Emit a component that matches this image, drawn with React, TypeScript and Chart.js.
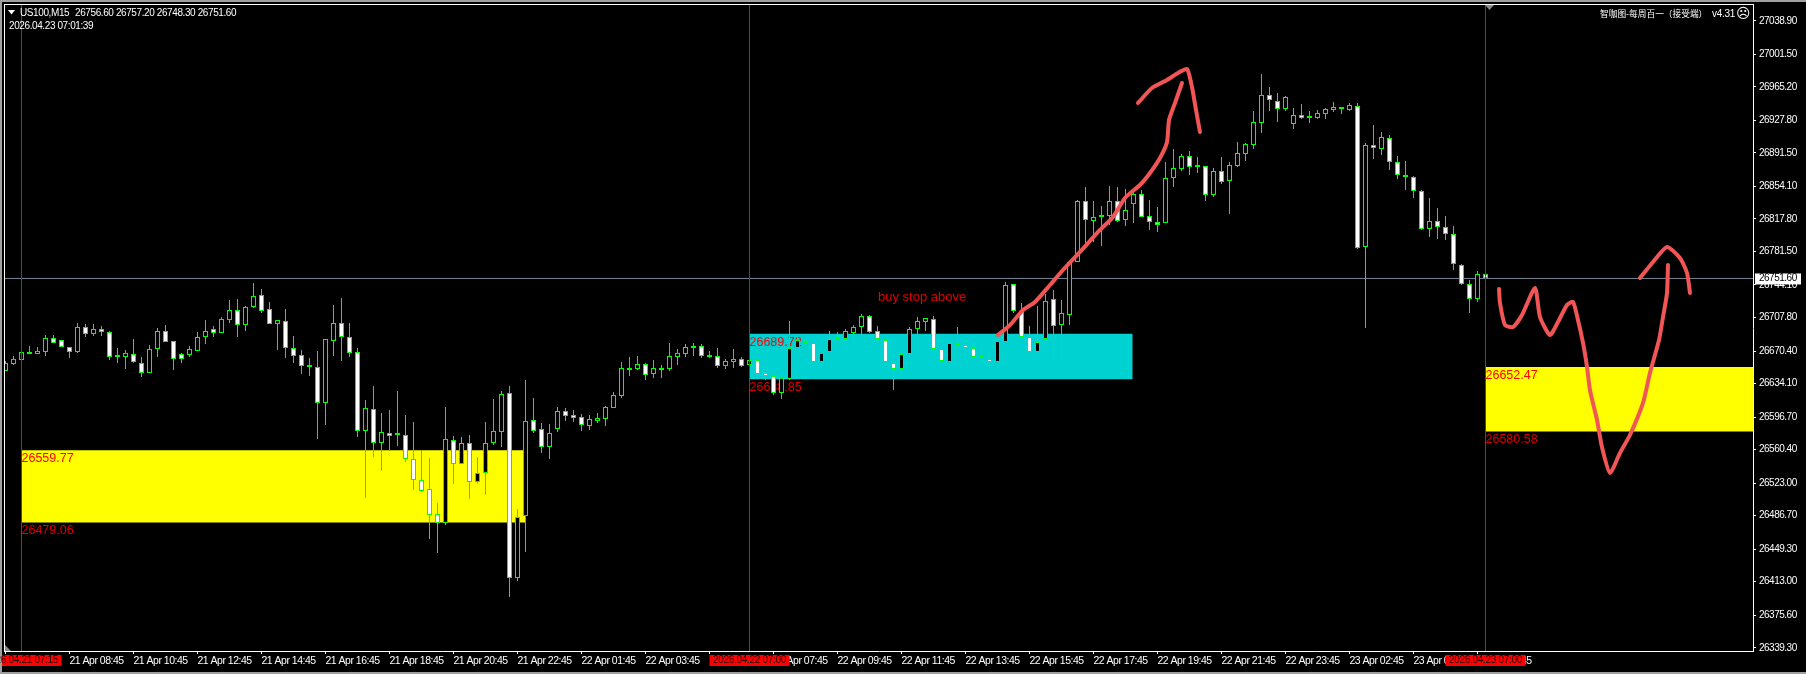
import React, { useEffect, useRef } from "react";
import { Chart, registerables } from "chart.js";

Chart.register(...registerables);

const opens = [
  26648.2,26655.9,26660.4,26669.4,26667.1,26669.4,26685.0,26682.7,26674.9,26669.4,
  26697.2,26689.4,26695.0,26691.7,26664.9,26663.8,26667.1,26657.1,26646.0,26672.7,
  26692.8,26681.6,26667.1,26666.0,26670.5,26686.1,26695.0,26690.6,26705.0,26716.2,
  26699.4,26719.6,26732.9,26717.4,26700.5,26703.9,26673.8,26666.0,26654.8,26652.6,
  26612.5,26681.6,26701.7,26686.1,26669.4,26581.2,26605.8,26567.8,26579.0,26577.8,
  26576.7,26550.0,26526.5,26516.5,26488.5,26478.6,26571.1,26544.3,26567.8,26524.3,
  26534.4,26567.8,26580.1,26623.6,26417.2,26486.3,26593.5,26583.4,26563.3,26583.4,
  26603.5,26599.0,26596.8,26586.8,26592.4,26594.6,26606.9,26620.3,26650.4,26650.4,
  26655.9,26644.8,26650.4,26650.4,26663.8,26667.1,26674.9,26676.0,26664.9,26664.9,
  26653.7,26658.2,26661.5,26654.8,26660.4,26646.0,26642.6,26623.6,26639.2,26673.8,
  26681.6,26679.4,26658.2,26669.4,26683.8,26683.8,26690.6,26697.2,26709.5,26692.8,
  26682.7,26657.1,26650.4,26667.1,26695.0,26702.8,26706.2,26672.7,26658.2,26678.2,
  26677.1,26673.8,26664.9,26661.5,26658.2,26680.5,26745.2,26715.1,26686.1,26669.4,
  26683.8,26728.5,26699.4,26710.6,26769.8,26837.8,26815.5,26820.0,26821.1,26837.8,
  26816.6,26834.4,26845.6,26821.1,26814.4,26813.3,26863.5,26873.5,26888.0,26876.9,
  26876.9,26844.5,26871.3,26860.2,26876.9,26890.3,26900.3,26924.9,26956.1,26949.4,
  26940.5,26923.8,26933.8,26931.5,26930.4,26934.9,26939.4,26942.7,26939.4,26943.8,
  26786.5,26900.3,26895.8,26908.1,26881.4,26866.8,26864.6,26849.0,26806.6,26815.5,
  26808.8,26801.0,26766.4,26745.2,26728.5,26756.6,
];
const highs = [
  26659.3,26664.9,26671.6,26676.0,26674.9,26688.3,26688.3,26682.7,26674.9,26701.7,
  26700.5,26700.5,26698.3,26692.8,26673.8,26671.6,26683.8,26663.8,26677.1,26696.1,
  26699.4,26681.6,26668.3,26676.0,26691.7,26705.0,26698.3,26708.4,26727.4,26728.5,
  26720.7,26746.4,26739.7,26725.2,26705.0,26717.4,26687.2,26671.6,26662.7,26670.5,
  26683.8,26721.8,26729.6,26701.7,26673.8,26615.8,26631.4,26601.3,26604.6,26625.8,
  26599.0,26591.3,26560.0,26551.1,26500.9,26608.0,26575.6,26574.5,26576.7,26552.2,
  26591.3,26616.9,26625.8,26631.4,26494.2,26638.1,26618.0,26590.2,26589.0,26608.0,
  26606.9,26604.6,26600.1,26599.0,26601.3,26609.1,26624.7,26658.2,26663.8,26664.9,
  26657.1,26660.4,26654.8,26679.4,26672.7,26678.2,26679.4,26678.2,26670.5,26673.8,
  26661.5,26672.7,26663.8,26663.8,26662.7,26647.1,26649.3,26643.7,26703.9,26688.3,
  26688.3,26679.4,26668.3,26692.8,26691.7,26695.0,26699.4,26711.7,26710.6,26698.3,
  26682.7,26667.1,26667.1,26697.2,26708.4,26707.3,26709.5,26688.3,26683.8,26697.2,
  26679.4,26680.5,26679.4,26671.6,26688.3,26747.5,26745.2,26724.0,26698.3,26720.7,
  26734.0,26738.5,26727.4,26769.8,26838.9,26853.5,26837.8,26832.2,26854.6,26853.5,
  26851.3,26850.1,26850.1,26838.9,26831.1,26881.4,26895.8,26890.3,26893.6,26886.9,
  26876.9,26874.6,26886.9,26881.4,26903.7,26902.6,26938.2,26979.5,26965.0,26958.3,
  26955.0,26941.6,26946.1,26938.2,26939.4,26941.6,26948.3,26942.7,26947.2,26947.2,
  26902.6,26922.7,26914.8,26911.5,26888.0,26882.5,26865.7,26850.1,26841.2,26830.0,
  26821.1,26809.9,26767.6,26749.7,26759.7,26757.2,
];
const lows = [
  26648.2,26654.8,26660.4,26667.1,26667.1,26664.9,26679.4,26674.9,26662.7,26668.3,
  26686.1,26687.2,26687.2,26660.4,26657.1,26650.4,26657.1,26641.5,26646.0,26663.8,
  26680.5,26649.3,26657.1,26663.8,26670.5,26678.2,26686.1,26690.6,26701.7,26686.1,
  26692.8,26718.5,26712.9,26700.5,26671.6,26662.7,26657.1,26644.8,26642.6,26572.3,
  26587.9,26664.9,26659.3,26663.8,26574.5,26506.5,26552.2,26536.6,26558.9,26564.4,
  26546.6,26515.4,26513.2,26460.7,26445.1,26476.3,26522.0,26544.3,26505.3,26522.0,
  26509.8,26565.5,26563.3,26395.9,26413.8,26446.2,26579.0,26556.7,26550.0,26580.1,
  26592.4,26591.3,26581.2,26582.3,26590.2,26586.8,26606.9,26618.0,26642.6,26649.3,
  26638.1,26640.4,26640.4,26648.2,26654.8,26663.8,26664.9,26662.7,26662.7,26651.5,
  26650.4,26651.5,26652.6,26652.6,26643.7,26638.1,26621.3,26616.9,26638.1,26668.3,
  26678.2,26654.8,26649.3,26669.4,26677.1,26681.6,26673.8,26686.1,26690.6,26673.8,
  26657.1,26626.9,26640.4,26661.5,26686.1,26692.8,26654.8,26652.6,26658.2,26672.7,
  26671.6,26663.8,26658.2,26652.6,26658.2,26680.5,26712.9,26685.0,26666.0,26663.8,
  26671.6,26660.4,26658.2,26699.4,26769.8,26791.0,26792.1,26787.6,26811.0,26814.4,
  26809.9,26813.3,26820.0,26805.5,26803.3,26813.3,26853.5,26871.3,26866.8,26869.1,
  26837.8,26842.3,26856.8,26823.3,26875.8,26882.5,26895.8,26913.7,26938.2,26926.0,
  26938.2,26918.1,26929.3,26924.9,26929.3,26929.3,26937.2,26934.9,26938.2,26784.3,
  26696.1,26884.7,26889.2,26872.4,26862.4,26850.1,26841.2,26805.5,26797.7,26795.4,
  26794.3,26760.8,26744.1,26712.9,26725.2,26748.3,
];
const closes = [
  26657.1,26661.6,26669.4,26667.1,26670.5,26685.0,26679.4,26674.9,26669.4,26697.2,
  26689.4,26695.0,26691.7,26663.8,26663.8,26668.3,26658.2,26646.0,26672.7,26692.8,
  26680.5,26661.5,26661.5,26672.7,26686.1,26692.8,26690.6,26706.2,26716.2,26699.4,
  26719.6,26731.8,26715.1,26700.5,26705.0,26673.8,26664.9,26653.7,26652.6,26612.5,
  26683.8,26701.7,26686.1,26668.3,26581.2,26606.9,26567.8,26580.1,26575.6,26576.7,
  26550.0,26526.5,26514.3,26487.4,26478.6,26572.2,26544.3,26567.8,26524.3,26534.4,
  26567.8,26581.2,26622.5,26417.2,26485.2,26592.4,26581.2,26563.3,26579.0,26603.5,
  26597.9,26595.7,26587.9,26594.6,26595.7,26608.0,26621.3,26651.5,26649.3,26655.9,
  26643.7,26651.5,26649.3,26664.9,26668.3,26674.9,26673.8,26664.9,26663.8,26653.7,
  26659.3,26661.5,26653.7,26660.4,26644.8,26642.6,26623.6,26640.4,26673.8,26682.7,
  26679.4,26658.2,26668.3,26683.8,26682.7,26692.8,26697.2,26709.5,26691.7,26683.8,
  26658.2,26650.4,26667.1,26695.0,26703.9,26707.3,26672.7,26659.3,26679.4,26677.1,
  26673.8,26663.8,26662.7,26658.2,26681.6,26744.1,26715.1,26686.1,26669.4,26680.5,
  26726.3,26698.3,26712.9,26769.8,26837.8,26816.6,26820.0,26822.2,26837.8,26815.5,
  26827.8,26845.6,26820.0,26814.4,26811.0,26863.5,26874.6,26888.0,26875.8,26875.8,
  26844.5,26871.3,26859.0,26878.0,26891.4,26901.4,26926.0,26956.1,26950.5,26940.5,
  26953.9,26933.8,26930.4,26930.4,26936.0,26940.5,26942.7,26940.5,26944.9,26785.4,
  26900.3,26896.9,26909.2,26881.4,26866.8,26864.6,26849.0,26806.6,26815.5,26808.8,
  26801.0,26767.6,26745.2,26728.5,26756.4,26751.6,
];

const priceTicks = [
  27038.9,27001.5,26965.2,26927.8,26891.5,26854.1,26817.8,26781.5,26744.1,26707.8,
  26670.4,26634.1,26596.7,26560.4,26523.0,26486.7,26449.3,26413.0,26375.6,26339.3,
];
const timeLabels = [
  "21 Apr 06:45","21 Apr 08:45","21 Apr 10:45","21 Apr 12:45","21 Apr 14:45","21 Apr 16:45",
  "21 Apr 18:45","21 Apr 20:45","21 Apr 22:45","22 Apr 01:45","22 Apr 03:45","22 Apr 05:45",
  "22 Apr 07:45","22 Apr 09:45","22 Apr 11:45","22 Apr 13:45","22 Apr 15:45","22 Apr 17:45",
  "22 Apr 19:45","22 Apr 21:45","22 Apr 23:45","23 Apr 02:45","23 Apr 04:45","23 Apr 06:45",
];
const barsPerTimeLabel = 8;

const sessionBars = [2, 93, 185];
const sessionStamps = ["2026.04.21 07:15", "2026.04.22 07:00", "2026.04.23 07:00"];

const zoneStartBars = [2, 93.06, 185.06];
const zoneEndBars = [64.94, 140.9, 218.44];
const zoneHighs = [26559.77, 26689.72, 26652.47];
const zoneLows = [26479.06, 26638.85, 26580.58];
const zoneFills = ["#ffff00", "#00d1d1", "#ffff00"];

const lastPriceLabel = "26751.60";
const lastPriceLine = 26751.4;

const sketchBarsA = [124.06,125.56,127.19,128.69,130.56,132.19,134.31,136.81,138.44,139.94,141.81,143.06,144.31,145.19,145.44,146.19,147.06];
const sketchPricesA = [26688.3,26699.4,26716.2,26725.2,26744.1,26760.8,26781.0,26805.5,26820.0,26841.2,26855.7,26869.1,26885.8,26903.7,26928.2,26947.2,26969.5];
const sketchBarsB = [141.56,143.31,145.19,146.56,147.69,148.31,148.81,149.31];
const sketchPricesB = [26947.2,26963.9,26972.8,26980.7,26985.1,26965.0,26939.4,26914.8];
const sketchBarsC = [186.69,186.81,187.44,188.44,189.56,191.19,191.81,193.06,194.06,195.19,195.94,196.56,197.19,197.69,198.06,198.94,199.56,200.56,201.81,203.06,204.69,205.56,206.69,207.19,207.69,207.81];
const sketchPricesC = [26739.7,26724.0,26699.4,26697.2,26710.6,26740.8,26708.4,26688.3,26702.8,26721.8,26725.2,26705.0,26679.4,26652.6,26626.9,26593.5,26563.3,26534.4,26556.7,26576.7,26612.5,26646.0,26682.7,26708.4,26735.2,26766.4];
const sketchBarsD = [204.31,205.94,207.69,209.31,210.19,210.56];
const sketchPricesD = [26751.9,26769.8,26786.5,26774.2,26757.5,26735.2];

const W = 1806;
const H = 674;
const UI_FAMILY = '"Liberation Sans"';
const UI_FONT = `10px ${UI_FAMILY}`;
const RED = "#ff0000";

const pair = (xs: number[], ys: number[]) => xs.map((x, i) => ({ x, y: ys[i] }));

const overlay = {
  id: "overlay",
  beforeDraw(chart: any) {
    const c = chart.ctx;
    c.save();
    c.fillStyle = "#000";
    c.fillRect(0, 0, W, H);
    c.fillStyle = "#a0a0a0";
    c.fillRect(0, 0, W, 2);
    c.fillRect(0, 0, 2, H);
    c.fillRect(0, 672, W, 2);
    c.fillStyle = "#fff";
    c.fillRect(4, 4, 1750, 1);
    c.fillRect(4, 4, 1, 648);
    c.restore();
    // tightens the axis labels to the width of the terminal's narrow bitmap font
    c.letterSpacing = "-0.5px";
  },
  afterDatasetDraw(chart: any, args: any) {
    const ds = chart.data.datasets[args.index];
    if (!ds.zoneIndex && ds.zoneIndex !== 0) return;
    const i = ds.zoneIndex;
    const c = chart.ctx;
    const px = chart.scales.x.getPixelForValue(sessionBars[i]);
    c.save();
    c.letterSpacing = "0px";
    c.font = '12.5px "Liberation Sans"';
    c.textBaseline = "middle";
    c.textAlign = "left";
    c.fillStyle = RED;
    c.fillText(zoneHighs[i].toFixed(2), px, chart.scales.y.getPixelForValue(zoneHighs[i]) + 8.5);
    c.fillStyle = "#dd0000";
    c.fillText(zoneLows[i].toFixed(2), px, chart.scales.y.getPixelForValue(zoneLows[i]) + 8.5);
    c.restore();
  },
  afterDraw(chart: any) {
    const c = chart.ctx;
    const { x, y } = chart.scales;
    c.save();
    c.textBaseline = "middle";
    c.textAlign = "left";

    // header
    c.fillStyle = "#fff";
    c.beginPath();
    c.moveTo(8, 10);
    c.lineTo(15, 10);
    c.lineTo(11.5, 14.5);
    c.closePath();
    c.fill();
    c.font = UI_FONT;
    c.letterSpacing = "-0.4px";
    c.fillText("US100,M15", 20, 13);
    c.fillText("26756.60 26757.20 26748.30 26751.60", 75, 13);
    c.fillText("2026.04.23 07:01:39", 9, 26);

    // right-hand indicator caption
    c.letterSpacing = "0px";
    c.font = '8.7px "Noto Sans CJK SC"';
    c.fillText("智咖图-每周百一（接受端）", 1600, 14);
    c.font = UI_FONT;
    c.letterSpacing = "-0.3px";
    c.fillText("v4.31", 1712, 14);
    c.letterSpacing = "0px";
    c.font = '14px "DejaVu Sans"';
    c.fillText("☹", 1736, 14);

    // annotation
    c.font = '13px "Liberation Sans"';
    c.fillStyle = "#dd0000";
    c.fillText("buy stop above", 878, 297);

    // chart-shift markers
    c.fillStyle = "#8a8a8a";
    c.beginPath();
    c.moveTo(1485, 5);
    c.lineTo(1494, 5);
    c.lineTo(1489.5, 10);
    c.closePath();
    c.fill();
    c.beginPath();
    c.moveTo(5, 645);
    c.lineTo(11, 651);
    c.lineTo(5, 651);
    c.closePath();
    c.fill();

    // session stamps on the time axis
    c.font = UI_FONT;
    c.letterSpacing = "-0.3px";
    sessionBars.forEach((bar, i) => {
      const px = x.getPixelForValue(bar);
      const left = Math.max(2, px - 40);
      c.fillStyle = RED;
      c.fillRect(left, 655, px + 40 - left, 11);
      c.fillStyle = "#200000";
      c.textAlign = "center";
      c.fillText(sessionStamps[i], px, 660.5);
    });

    // last price tag
    const py = y.getPixelForValue(lastPriceLine);
    c.fillStyle = "#fff";
    c.fillRect(1755, py - 5, 46, 11);
    c.fillStyle = "#000";
    c.font = UI_FONT;
    c.letterSpacing = "-0.5px";
    c.textAlign = "left";
    c.fillText(lastPriceLabel, 1759, py);
    c.restore();
  },
};

export default function App() {
  const ref = useRef<HTMLCanvasElement | null>(null);

  useEffect(() => {
    document.body.style.margin = "0";
    document.body.style.background = "#000";
    const canvas = ref.current!;
    const bars = opens.map((_, i) => i);

    const xMin = -0.0625;
    const xMax = 218.4375;
    const yMin = 26335.71;
    const yMax = 27056.52;

    const lineBase = {
      type: "line",
      pointRadius: 0,
      tension: 0,
      fill: false,
    };

    const datasets: any[] = [
      ...zoneHighs.map((hi, i) => ({
        ...lineBase,
        data: [
          { x: zoneStartBars[i], y: hi },
          { x: zoneEndBars[i], y: hi },
        ],
        fill: { value: zoneLows[i] },
        backgroundColor: zoneFills[i],
        borderWidth: 0,
        order: 40,
        zoneIndex: i,
      })),
      {
        ...lineBase,
        data: [
          { x: xMin, y: lastPriceLine },
          { x: xMax, y: lastPriceLine },
        ],
        borderColor: "#778899",
        borderWidth: 1,
        order: 35,
      },
      {
        type: "bar",
        data: bars.map((i) => ({ x: i, y: [lows[i], highs[i]] })),
        backgroundColor: "#00ff00",
        borderWidth: 0,
        grouped: false,
        barPercentage: 0.9,
        categoryPercentage: 1,
        maxBarThickness: 1,
        inflateAmount: 0,
        order: 30,
      },
      {
        type: "bar",
        data: bars.map((i) => ({ x: i, y: [opens[i], closes[i]] })),
        backgroundColor: bars.map((i) => (closes[i] < opens[i] ? "#ffffff" : "#000000")),
        borderColor: "#00ff00",
        borderWidth: 1,
        borderSkipped: false,
        grouped: false,
        barPercentage: 0.9,
        categoryPercentage: 1,
        maxBarThickness: 5,
        minBarLength: 2,
        inflateAmount: 0,
        order: 20,
      },
      ...sessionBars.map((bar) => ({
        ...lineBase,
        data: [
          { x: bar, y: yMin },
          { x: bar, y: yMax },
        ],
        borderColor: RED,
        borderWidth: 1,
        order: 10,
      })),
      ...[
        pair(sketchBarsA, sketchPricesA),
        pair(sketchBarsB, sketchPricesB),
        pair(sketchBarsC, sketchPricesC),
        pair(sketchBarsD, sketchPricesD),
      ].map((data) => ({
        ...lineBase,
        data,
        tension: 0.2,
        borderColor: "#f25555",
        borderWidth: 4,
        borderCapStyle: "round",
        borderJoinStyle: "round",
        order: 5,
      })),
    ];

    const chart = new Chart(canvas, {
      type: "bar",
      data: { datasets },
      options: {
        animation: false,
        responsive: false,
        maintainAspectRatio: false,
        layout: { padding: { left: 5, top: 5, right: 0, bottom: 0 } },
        plugins: { legend: { display: false }, tooltip: { enabled: false } },
        scales: {
          x: {
            type: "linear",
            min: xMin,
            max: xMax,
            offset: false,
            afterBuildTicks: (s: any) => {
              s.ticks = timeLabels.map((_, i) => ({ value: i * barsPerTimeLabel }));
            },
            afterFit: (s: any) => {
              s.height = H - 651;
              s.paddingLeft = 0;
              s.paddingRight = 0;
              s.paddingTop = 0;
              s.paddingBottom = 0;
            },
            grid: {
              drawOnChartArea: false,
              color: "#fff",
              tickColor: "#fff",
              tickLength: 3,
              offset: false,
            },
            border: { color: "#fff", width: 1 },
            ticks: {
              autoSkip: false,
              maxRotation: 0,
              minRotation: 0,
              align: "start",
              color: "#fff",
              padding: 1,
              font: { family: UI_FAMILY, size: 10.5 },
              callback: (v: number) => timeLabels[Math.round(v / barsPerTimeLabel)],
            },
          },
          y: {
            type: "linear",
            position: "right",
            min: yMin,
            max: yMax,
            afterBuildTicks: (s: any) => {
              s.ticks = priceTicks.map((value) => ({ value }));
            },
            afterFit: (s: any) => {
              s.width = W - 1753;
              s.paddingLeft = 0;
              s.paddingRight = 0;
              s.paddingTop = 0;
              s.paddingBottom = 0;
            },
            grid: {
              drawOnChartArea: false,
              color: "#fff",
              tickColor: "#fff",
              tickLength: 3,
            },
            border: { color: "#fff", width: 1 },
            ticks: {
              autoSkip: false,
              color: "#fff",
              padding: 3,
              font: { family: UI_FAMILY, size: 10 },
              callback: (v: number) => v.toFixed(2),
            },
          },
        },
      },
      plugins: [overlay],
    } as any);

    return () => chart.destroy();
  }, []);

  return (
    <div style={{ position: "fixed", left: 0, top: 0, width: W, height: H }}>
      <canvas ref={ref} width={W} height={H} style={{ display: "block" }} />
    </div>
  );
}
